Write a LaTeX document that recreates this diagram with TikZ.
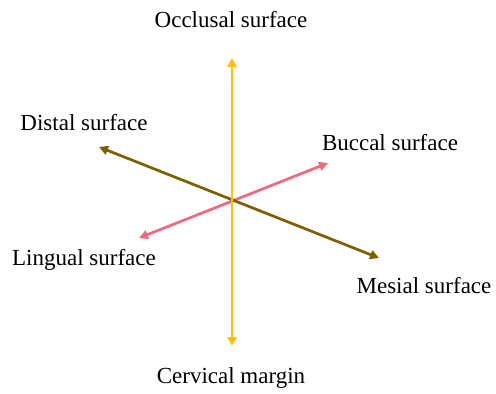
\documentclass[tikz,border=0pt]{standalone}
\usepackage{fontspec}
\setmainfont{Liberation Serif}
\usepackage{tikz}
\usetikzlibrary{arrows.meta}
\definecolor{toothgold}{RGB}{255,192,0}
\definecolor{toothbrown}{RGB}{127,96,0}
\definecolor{toothpink}{RGB}{242,104,128}

\begin{document}
\begin{tikzpicture}[x=1pt, y=-1pt, font=\fontsize{23}{26}\selectfont,
    axis/.style={line width=2.7pt, {Triangle[length=9pt,width=9pt]}-{Triangle[length=9pt,width=9pt]}}]

  \useasboundingbox (0,0) rectangle (496,394);

  % === end points of the three axes ===
  \coordinate (occ) at (232,58);
  \coordinate (cer) at (232,346);
  \coordinate (dis) at (99,147);
  \coordinate (mes) at (379,258);
  \coordinate (lin) at (139,238);
  \coordinate (buc) at (328,163);

  % Axes
  \draw[axis, toothpink] (lin) -- (buc);
  \draw[axis, toothbrown] (dis) -- (mes);
  \draw[axis, toothgold] (cer) -- (occ);

  % Labels
  \node (occlabel) at (231,20) {Occlusal surface};
  \node (cerlabel) at (231,378) {Cervical margin};
  \node (dislabel) at (84,123) {Distal surface};
  \node (buclabel) at (390,143) {Buccal surface};
  \node (linlabel) at (84,260) {Lingual surface};
  \node (meslabel) at (424,286) {Mesial surface};

\end{tikzpicture}
\end{document}
